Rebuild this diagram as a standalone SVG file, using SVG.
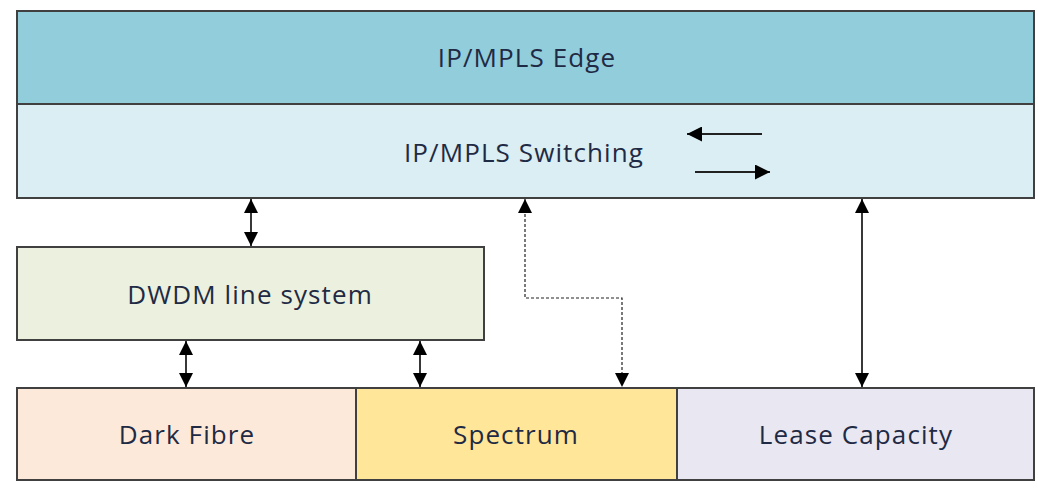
<svg xmlns="http://www.w3.org/2000/svg" width="1038" height="491" viewBox="0 0 1038 491">
<style>
.box{stroke:#404040;stroke-width:2}
.t{font-family:"Open Sans","Liberation Sans",sans-serif;font-size:26px;letter-spacing:1.1px;fill:#1f2a44;text-anchor:middle;dominant-baseline:central}
.c{stroke:#222;stroke-width:1.8;fill:none}
.d{stroke:#222;stroke-width:1.2;fill:none;stroke-dasharray:3 2}
</style>
<defs>
<marker id="ah" viewBox="0 0 10 10" refX="10" refY="5" markerWidth="14" markerHeight="14" markerUnits="userSpaceOnUse" orient="auto-start-reverse">
<path d="M0,0 L10,5 L0,10 Z" fill="#000"/>
</marker>
<marker id="ahs" viewBox="0 0 10 10" refX="10" refY="5" markerWidth="15" markerHeight="15" markerUnits="userSpaceOnUse" orient="auto-start-reverse">
<path d="M0,0 L10,5 L0,10 Z" fill="#000"/>
</marker>
</defs>
<rect width="1038" height="491" fill="#fff"/>
<g id="edge"><rect class="box" x="17" y="11" width="1017" height="93" fill="#92CDDC"/><text class="t" x="527" y="57">IP/MPLS Edge</text></g>
<g id="switching"><rect class="box" x="17" y="104" width="1017" height="94" fill="#DAEEF3"/><text class="t" x="524" y="152">IP/MPLS Switching</text></g>
<g id="dwdm"><rect class="box" x="17" y="247" width="467" height="93" fill="#EBF1DE"/><text class="t" x="250" y="294">DWDM line system</text></g>
<g id="darkfibre"><rect class="box" x="17" y="388" width="339" height="92" fill="#FDE9D9"/><text class="t" x="187" y="434">Dark Fibre</text></g>
<g id="spectrum"><rect class="box" x="356" y="388" width="321" height="92" fill="#FFE699"/><text class="t" x="516" y="434">Spectrum</text></g>
<g id="lease"><rect class="box" x="677" y="388" width="357" height="92" fill="#E9E7F1"/><text class="t" x="856" y="434">Lease Capacity</text></g>
<g id="connectors">
<line class="c" x1="251" y1="199" x2="251" y2="246" marker-start="url(#ah)" marker-end="url(#ah)"/>
<line class="c" x1="186" y1="341" x2="186" y2="387" marker-start="url(#ah)" marker-end="url(#ah)"/>
<line class="c" x1="420" y1="341" x2="420" y2="387" marker-start="url(#ah)" marker-end="url(#ah)"/>
<line class="c" x1="862" y1="199" x2="862" y2="387" marker-start="url(#ah)" marker-end="url(#ah)"/>
<polyline class="d" points="525,199 525,298 622,298 622,387" marker-start="url(#ah)" marker-end="url(#ah)"/>
<line class="c" x1="762" y1="134" x2="687" y2="134" marker-end="url(#ahs)"/>
<line class="c" x1="695" y1="172" x2="770" y2="172" marker-end="url(#ahs)"/>
</g>
</svg>
